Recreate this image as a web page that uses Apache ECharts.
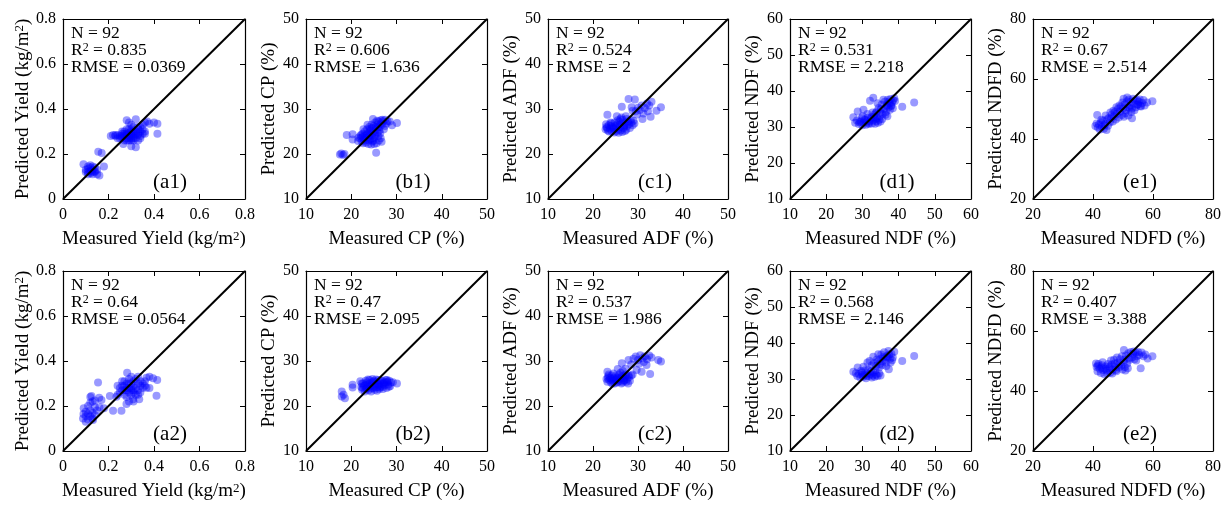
<!DOCTYPE html>
<html><head><meta charset="utf-8">
<script src="https://cdn.jsdelivr.net/npm/echarts@6/dist/echarts.min.js"></script>
<style>html,body{margin:0;padding:0;background:#fff}#c{width:1225px;height:505px}</style>
</head><body><div id="c"></div><script>
// ---------- data: [measured, predicted] ----------
const a1 = [[0.09,0.155],[0.10,0.13],[0.11,0.12],[0.11,0.135],[0.12,0.14],[0.12,0.115],[0.13,0.13],[0.13,0.145],[0.14,0.125],[0.14,0.14],[0.12,0.125],[0.10,0.12],[0.13,0.11],[0.15,0.13],[0.15,0.11],[0.16,0.105],[0.11,0.145],[0.14,0.12],[0.18,0.145],[0.155,0.21],[0.17,0.205],[0.12,0.15],[0.13,0.12],[0.11,0.11],
[0.21,0.28],[0.22,0.285],[0.23,0.28],[0.24,0.285],[0.25,0.28],[0.26,0.29],[0.26,0.27],[0.27,0.30],[0.27,0.28],[0.28,0.35],[0.28,0.27],[0.28,0.29],[0.29,0.31],[0.29,0.28],[0.29,0.26],[0.30,0.33],[0.30,0.29],[0.30,0.27],[0.31,0.30],[0.31,0.28],[0.31,0.26],[0.32,0.355],[0.32,0.29],[0.32,0.27],[0.33,0.31],[0.33,0.285],[0.34,0.30],[0.34,0.27],[0.35,0.33],[0.35,0.29],[0.36,0.34],[0.37,0.345],[0.38,0.335],[0.40,0.34],[0.415,0.335],[0.415,0.29],[0.265,0.245],[0.30,0.235],[0.32,0.23],[0.33,0.32],[0.29,0.34],[0.27,0.26],[0.25,0.27],[0.28,0.31],[0.30,0.31],[0.31,0.32],[0.34,0.28],[0.26,0.30],[0.24,0.27],[0.33,0.29],[0.35,0.31],[0.36,0.30],[0.28,0.285],[0.29,0.295],[0.30,0.30],[0.31,0.29],[0.27,0.29],[0.32,0.30],[0.30,0.28],[0.26,0.28],[0.28,0.26],[0.33,0.26],[0.29,0.27],[0.31,0.27],[0.30,0.26],[0.34,0.32],[0.36,0.29],[0.23,0.285]];
const b1 = [[17.5,19.9],[17.8,20.1],[18.2,19.8],[18.5,20.0],[19.0,24.2],[20.3,24.4],[20.3,23.2],[25.5,20.3],[29.0,26.4],[30.1,26.9],[24.8,27.8],[22.0,23.5],[22.0,24.0],[22.3,22.8],[22.5,23.8],[22.5,24.5],[22.8,23.2],[23.0,24.0],[23.0,25.0],[23.2,22.5],[23.3,23.6],[23.5,24.5],[23.5,25.5],[23.8,22.2],[23.8,23.8],[24.0,24.8],[24.0,26.0],[24.2,23.2],[24.3,25.2],[24.5,24.0],[24.5,26.5],[24.7,22.8],[24.8,25.0],[25.0,23.5],[25.0,26.2],[25.2,24.5],[25.3,27.0],[25.5,25.5],[25.6,22.4],[25.8,26.5],[26.0,24.0],[26.0,27.2],[26.2,25.2],[26.5,27.5],[26.5,23.5],[26.7,22.7],[26.8,26.5],[27.0,27.3],[27.2,25.5],[27.5,27.6],[27.8,26.8],[28.0,27.3],[28.5,27.2],[22.7,25.5],[23.6,26.5],[24.6,25.8],[25.4,26.0],[25.8,24.8],[26.3,26.0],[24.1,24.2],[23.9,23.0],[22.6,22.4],[23.1,23.0],[25.1,22.2],[24.4,22.1],[26.1,23.0],[26.4,24.6],[25.7,27.4],[26.9,27.6],[24.9,23.0],[23.4,24.2],[24.2,25.6],[25.3,23.9],[22.2,24.3],[21.6,23.6],[21.5,22.9],[26.6,26.8],[27.4,26.2],[25.9,25.9],[24.7,24.6]];
const c1 = [[23.2,28.7],[27.9,32.2],[29.3,32.1],[35.1,30.4],[34.1,29.6],[32.8,28.3],[31.0,27.8],[33.0,31.6],[32.5,30.8],[32.0,31.2],[31.5,30.2],[30.4,29.8],[30.0,30.3],[29.5,29.5],[28.6,30.4],[28.8,29.6],[26.4,30.5],[25.3,28.4],[31.2,29.0],[30.8,30.8],[32.2,29.5],[29.8,28.8],
[22.8,25.5],[23.0,26.0],[23.3,25.2],[23.5,26.4],[23.8,25.6],[24.0,26.8],[24.2,25.0],[24.4,26.0],[24.6,25.5],[24.8,27.0],[25.0,26.2],[25.2,25.0],[25.4,26.6],[25.6,25.4],[25.8,27.2],[26.0,26.0],[26.2,25.2],[26.4,26.8],[26.6,27.6],[26.8,25.8],[27.0,26.4],[27.2,27.0],[27.4,25.4],[27.6,26.2],[27.8,27.2],[28.0,26.6],[28.2,25.8],[28.5,27.0],[28.8,26.4],[29.2,26.8],[23.6,25.0],[24.5,25.8],[25.5,27.5],[26.5,24.9],[27.5,27.8],[25.1,25.7],[24.1,26.3],[26.9,26.1],[23.9,27.0],[28.4,27.6],[25.9,26.5],[26.1,27.8],[27.1,25.1],[24.7,24.8],[25.7,24.7],[29.0,27.4],[23.1,25.8],[22.9,26.6],[27.3,28.4],[26.3,28.1]];
const d1 = [[44.3,36.8],[41.0,35.6],[33.0,38.1],[32.1,37.3],[28.7,34.3],[30.3,34.8],[27.5,32.7],[28.0,31.2],[28.5,31.8],[29.0,30.8],[29.5,31.5],[29.8,32.4],[30.0,30.5],[30.3,31.2],[30.6,32.0],[31.0,30.6],[31.2,31.5],[31.5,32.6],[31.8,30.8],[32.0,31.6],[32.3,32.3],[32.6,31.0],[32.9,31.8],[33.2,32.8],[33.5,30.9],[33.8,31.6],[34.0,32.5],[34.3,31.2],[34.6,32.0],[35.0,31.5],[29.2,31.3],[30.8,31.9],[31.7,31.1],[32.5,32.8],[33.6,32.2],[34.8,33.0],[33.3,33.5],[34.0,34.4],[34.5,35.3],[35.0,34.0],[35.3,36.2],[35.6,33.6],[36.0,35.0],[36.2,37.0],[36.5,34.2],[36.8,36.2],[37.0,37.6],[37.2,35.4],[37.5,36.6],[37.8,37.8],[38.0,35.8],[38.2,36.8],[38.5,37.4],[38.8,38.0],[37.6,34.8],[36.4,33.4],[35.8,37.6],[37.9,36.0],[38.4,35.2],[36.9,33.0],[34.2,36.6],[35.1,35.0],[33.7,33.9],[32.8,34.0],[31.4,33.6],[30.1,33.0],[39.0,37.2],[37.3,37.0],[36.7,35.8],[35.5,32.2]];
const e1 = [[41.4,48.0],[40.8,44.3],[41.2,45.2],[41.6,43.8],[42.0,44.8],[42.3,43.2],[42.6,45.6],[43.0,44.0],[43.3,46.2],[43.6,43.4],[44.0,45.0],[44.5,43.0],[44.8,46.6],[45.0,44.4],[45.3,47.0],[45.6,45.5],[46.0,46.8],[46.3,48.2],[46.6,45.8],[47.0,47.6],[47.3,49.0],[47.6,46.5],[48.0,48.4],[48.3,50.0],[48.6,47.2],[49.0,49.2],[49.3,50.8],[49.6,48.0],[50.0,50.2],[50.3,47.4],[50.6,51.5],[51.0,49.6],[51.3,52.6],[51.6,50.5],[52.0,53.2],[52.3,51.2],[52.6,52.4],[53.0,46.9],[53.0,50.2],[53.3,53.4],[53.6,51.8],[54.0,52.8],[54.3,50.6],[54.6,53.0],[55.0,51.6],[55.3,52.4],[55.6,53.2],[56.0,50.8],[56.4,52.0],[56.8,53.0],[57.2,51.2],[58.0,52.2],[59.8,52.6],[50.8,48.6],[49.8,52.2],[48.8,51.2],[47.8,50.6],[46.8,49.4],[45.8,48.8],[44.2,47.8],[51.8,47.8],[52.8,49.0],[53.8,49.6],[50.2,53.4],[51.4,53.8],[55.8,51.0],[52.2,50.4],[43.8,44.6],[42.8,46.4],[54.8,51.4]];
const a2 = [[0.154,0.304],[0.125,0.244],[0.091,0.19],[0.088,0.145],[0.132,0.138],[0.159,0.237],[0.169,0.227],[0.22,0.179],[0.257,0.179],[0.282,0.348],[0.279,0.209],[0.411,0.246],[0.396,0.323],[0.414,0.316],[0.367,0.326],[0.33,0.33],[0.235,0.241],[0.206,0.244],[0.308,0.23],[0.335,0.23],[0.367,0.281],
[0.09,0.165],[0.10,0.175],[0.10,0.155],[0.11,0.20],[0.11,0.14],[0.12,0.215],[0.12,0.18],[0.12,0.155],[0.13,0.22],[0.13,0.17],[0.13,0.145],[0.14,0.195],[0.14,0.16],[0.14,0.225],[0.15,0.18],[0.11,0.165],[0.10,0.13],[0.12,0.24],[0.16,0.195],[0.18,0.19],
[0.24,0.25],[0.25,0.26],[0.26,0.31],[0.26,0.27],[0.27,0.29],[0.27,0.25],[0.28,0.30],[0.28,0.27],[0.28,0.24],[0.29,0.32],[0.29,0.28],[0.29,0.26],[0.30,0.30],[0.30,0.27],[0.30,0.25],[0.31,0.31],[0.31,0.29],[0.31,0.26],[0.32,0.28],[0.32,0.25],[0.32,0.32],[0.33,0.30],[0.33,0.27],[0.34,0.29],[0.34,0.31],[0.35,0.28],[0.35,0.30],[0.36,0.31],[0.38,0.28],[0.38,0.33],[0.27,0.27],[0.29,0.30],[0.30,0.28],[0.31,0.27],[0.26,0.29],[0.25,0.28],[0.28,0.28],[0.33,0.25],[0.31,0.22],[0.29,0.22],[0.34,0.26],[0.36,0.29],[0.27,0.31],[0.30,0.33],[0.24,0.29]];
const b2 = [[17.9,23.2],[17.9,22.1],[18.6,21.7],[18.3,22.5],[20.3,24.7],[20.3,24.1],[30.1,25.0],[29.2,25.3],
[22.0,25.5],[22.2,24.2],[22.4,23.6],[22.6,25.0],[22.8,24.5],[23.0,23.2],[23.2,25.6],[23.4,24.0],[23.6,24.8],[23.8,23.5],[24.0,25.8],[24.2,24.4],[24.4,23.2],[24.6,25.2],[24.8,24.0],[25.0,25.6],[25.2,23.6],[25.4,24.8],[25.6,25.4],[25.8,24.2],[26.0,25.8],[26.2,23.8],[26.4,25.0],[26.6,24.4],[26.8,25.6],[27.0,23.8],[27.2,25.2],[27.4,24.6],[27.6,25.8],[27.8,24.0],[28.0,25.4],[28.2,24.8],[28.4,25.6],[28.6,24.4],[28.8,25.2],[23.1,24.6],[24.1,25.0],[25.1,24.4],[26.1,24.6],[27.1,24.9],[23.5,25.2],[24.5,24.6],[25.5,25.9],[26.5,25.6],[22.5,24.0],[23.9,24.3],[24.9,25.4],[25.9,24.9],[27.5,25.3],[28.3,24.3],[22.3,25.0],[23.3,23.8],[24.3,23.9],[25.3,24.1],[26.3,24.1],[24.7,26.0],[27.9,25.8],[26.9,24.2],[23.7,25.9],[25.7,23.4]];
const c2 = [[23.2,27.6],[26.4,29.5],[27.9,30.2],[35.1,29.9],[34.5,30.2],[32.7,27.1],[30.8,27.6],[29.7,28.0],[31.9,29.1],[29.0,30.5],[29.5,31.0],[30.0,30.2],[30.5,31.3],[31.0,30.6],[31.5,31.0],[32.0,30.4],[32.5,31.2],[33.0,30.8],[28.5,29.2],[30.2,29.4],[31.3,29.8],[27.2,28.3],[25.5,28.2],[26.6,27.8],
[23.0,26.0],[23.2,25.4],[23.4,26.6],[23.6,25.8],[23.8,26.2],[24.0,25.2],[24.2,26.8],[24.4,25.6],[24.6,26.2],[24.8,25.0],[25.0,26.6],[25.2,25.8],[25.4,26.4],[25.6,25.4],[25.8,27.0],[26.0,26.0],[26.2,25.6],[26.4,26.6],[26.6,25.2],[26.8,26.2],[27.0,25.8],[27.2,26.6],[27.4,25.4],[27.6,26.0],[27.8,25.0],[28.0,26.4],[28.2,25.6],[28.5,26.8],[23.5,27.0],[24.5,27.2],[25.3,25.2],[26.3,25.0],[27.3,27.0],[24.1,26.0],[25.7,26.2],[26.7,26.8],[27.9,26.8],[24.9,25.6],[26.1,27.4],[28.8,27.0],[23.3,26.2],[25.1,26.0],[26.9,25.6],[24.3,25.0]];
const d2 = [[44.3,36.4],[41.0,35.0],[34.4,36.9],[33.0,36.2],[28.7,33.2],[27.5,32.0],[30.3,33.4],[37.3,32.7],
[28.2,31.6],[28.6,30.8],[29.0,31.4],[29.4,30.4],[29.8,31.8],[30.2,30.6],[30.6,31.2],[31.0,30.2],[31.4,31.6],[31.8,30.8],[32.2,31.4],[32.6,30.4],[33.0,31.8],[33.4,30.6],[33.8,31.2],[34.2,30.8],[34.6,31.6],[35.0,31.0],[29.6,32.2],[30.8,32.4],[31.6,32.6],[32.4,32.2],[33.6,32.4],[30.0,31.2],[31.2,30.8],[32.8,31.0],
[32.0,35.0],[33.2,34.4],[34.0,35.4],[34.8,34.2],[35.2,36.8],[35.6,35.0],[36.0,37.4],[36.4,34.6],[36.8,36.4],[37.2,37.8],[37.6,35.6],[38.0,37.0],[38.4,36.0],[38.8,37.6],[37.4,36.8],[36.2,35.8],[35.4,33.8],[34.6,33.2],[37.8,34.6],[38.2,35.2],[36.6,33.6],[33.8,33.6],[35.8,36.2],[37.0,36.0],[34.2,34.8],[35.0,35.6],[32.6,33.8],[31.4,34.6]];
const e2 = [[41.0,49.2],[41.2,48.0],[41.5,46.6],[41.8,49.0],[42.2,47.4],[42.6,46.0],[43.0,48.6],[43.4,47.0],[43.8,45.6],[44.2,48.2],[44.6,46.8],[45.0,49.0],[45.4,47.6],[45.8,46.2],[46.2,48.8],[46.6,47.2],[47.0,50.4],[47.4,48.0],[47.8,46.6],[48.2,49.4],[48.6,47.8],[49.0,50.6],[49.4,48.4],[49.8,47.2],[50.2,49.6],[50.3,53.7],[50.6,48.0],[51.0,51.8],[51.4,49.2],[51.8,52.6],[52.2,50.4],[52.6,53.0],[53.0,51.2],[53.4,52.4],[53.8,50.6],[54.2,52.8],[54.6,51.6],[55.0,53.0],[55.4,52.0],[55.9,47.6],[56.2,52.8],[56.8,51.6],[57.4,52.2],[58.2,50.8],[59.8,51.6],[44.0,47.4],[45.6,48.2],[47.2,49.2],[48.8,48.8],[50.4,50.4],[52.0,51.0],[53.6,53.2],[43.2,49.6],[46.0,50.2],[49.6,51.6],[51.6,47.6],[42.8,47.8],[44.8,45.8],[47.6,47.0],[50.8,46.8],[54.4,50.2],[48.0,51.2],[41.6,48.4],[46.4,45.8]];

const panelData = [a1, b1, c1, d1, e1, a2, b2, c2, d2, e2];
const panelLabels = ['(a1)','(b1)','(c1)','(d1)','(e1)','(a2)','(b2)','(c2)','(d2)','(e2)'];
const sampleCounts = [92, 92, 92, 92, 92, 92, 92, 92, 92, 92];
const r2Values = ['0.835','0.606','0.524','0.531','0.67','0.64','0.47','0.537','0.568','0.407'];
const rmseValues = ['0.0369','1.636','2','2.218','2.514','0.0564','2.095','1.986','2.146','3.388'];
const xNames = ['Measured Yield (kg/m{s|2})','Measured CP (%)','Measured ADF (%)','Measured NDF (%)','Measured NDFD (%)'];
const yNames = ['Predicted Yield (kg/m{s|2})','Predicted CP (%)','Predicted ADF (%)','Predicted NDF (%)','Predicted NDFD (%)'];
const axisMin = [0, 10, 10, 10, 20];
const axisMax = [0.8, 50, 50, 60, 80];
const axisStep = [0.2, 10, 10, 10, 20];

// ---------- layout / style ----------
const FONT = "'Liberation Serif', 'Times New Roman', serif";
const colLeft = [63, 306, 548, 790, 1033];
const colWidth = [182, 181, 180, 181, 180];
const rowTop = [19, 271];
const boxH = 180;
const supRich = { s: { fontSize: 13, fontFamily: FONT, color: '#000', verticalAlign: 'top' } };

const grids = [], xAxes = [], yAxes = [], series = [], graphics = [];
for (let p = 0; p < 10; p++) {
  const col = p % 5, row = Math.floor(p / 5);
  const left = colLeft[col], top = rowTop[row], w = colWidth[col];
  grids.push({ left: left, top: top, width: w, height: boxH, containLabel: false });
  const base = {
    gridIndex: p, type: 'value', min: axisMin[col], max: axisMax[col], interval: axisStep[col],
    splitLine: { show: false },
    axisLine: { show: true, onZero: false, lineStyle: { color: '#000', width: 1.2 } },
    axisTick: { show: true, inside: true, length: 5, lineStyle: { color: '#000', width: 1 } }
  };
  const lbl = { show: true, color: '#000', fontSize: 16, fontFamily: FONT };
  xAxes.push(Object.assign({}, base, {
    position: 'bottom', axisLabel: Object.assign({ margin: 8 }, lbl),
    name: xNames[col], nameLocation: 'middle', nameGap: 31,
    nameTextStyle: { color: '#000', fontSize: 19, fontFamily: FONT, rich: supRich }
  }));
  xAxes.push(Object.assign({}, base, { position: 'top', axisLabel: { show: false } }));
  yAxes.push(Object.assign({}, base, {
    position: 'left', axisLabel: Object.assign({ margin: 7 }, lbl),
    name: yNames[col], nameLocation: 'middle', nameGap: 27,
    nameTextStyle: { color: '#000', fontSize: 19, fontFamily: FONT, rich: supRich }
  }));
  yAxes.push(Object.assign({}, base, { position: 'right', axisLabel: { show: false } }));

  series.push({
    type: 'scatter', xAxisIndex: 2 * p, yAxisIndex: 2 * p, data: panelData[p],
    symbol: 'circle', symbolSize: 8, z: 2,
    itemStyle: { color: 'rgba(0,0,255,0.5)', borderWidth: 0 },
    emphasis: { disabled: true }, silent: true
  });
  series.push({
    type: 'line', xAxisIndex: 2 * p, yAxisIndex: 2 * p,
    data: [[axisMin[col], axisMin[col]], [axisMax[col], axisMax[col]]],
    symbol: 'none', z: 3, silent: true,
    lineStyle: { color: '#000', width: 2 }
  });

  const n = { fontSize: 17.5, fontFamily: FONT, color: '#000', lineHeight: 17 };
  graphics.push({
    type: 'text', x: left + 8, y: top + 6, silent: true,
    style: {
      text: '{n|N = ' + sampleCounts[p] + '}\n{n|R}{s|2}{n| = ' + r2Values[p] + '}\n{n|RMSE = ' + rmseValues[p] + '}',
      rich: { n: n, s: { fontSize: 12, fontFamily: FONT, fill: '#000', verticalAlign: 'top' } },
      fill: '#000', fontSize: 17.5, fontFamily: FONT
    }
  });
  graphics.push({
    type: 'text', x: left + 107, y: top + boxH - 17, silent: true,
    style: { text: panelLabels[p], fill: '#000', fontSize: 21, fontFamily: FONT, align: 'center', verticalAlign: 'middle' }
  });
}

const chart = echarts.init(document.getElementById('c'), null, { renderer: 'canvas' });
chart.setOption({
  backgroundColor: '#fff',
  animation: false,
  grid: grids, xAxis: xAxes, yAxis: yAxes, series: series, graphic: graphics
});
</script></body></html>
